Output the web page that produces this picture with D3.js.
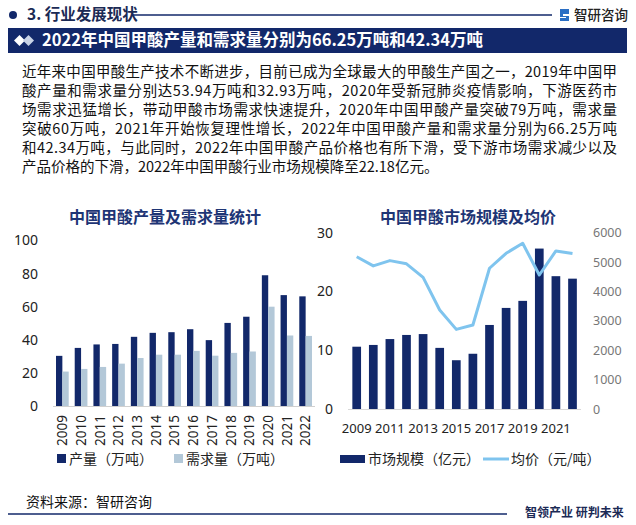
<!DOCTYPE html>
<html><head><meta charset="utf-8">
<script src="https://cdn.jsdelivr.net/npm/d3@7/dist/d3.min.js"></script>
<style>
html,body{margin:0;padding:0;background:#fff;}
svg{display:block;font-family:"Noto Sans CJK SC","Noto Sans",sans-serif;}
</style></head><body>
<svg id="c" width="636" height="525"></svg>
<script>
const years = ["2009","2010","2011","2012","2013","2014","2015","2016","2017","2018","2019","2020","2021","2022"];
const production = [30.3,35.1,37.2,37.5,41.8,44.2,44.6,46.4,39.8,50.2,53.94,79.0,67.0,66.25];
const demand = [20.8,22.4,23.6,25.6,29.0,31.0,31.0,33.3,30.4,32.1,32.93,60.0,42.6,42.34];
const marketSize = [10.6,10.9,11.9,12.6,12.75,10.4,8.3,9.4,14.3,17.2,18.4,27.3,22.6,22.18];
const avgPrice = [5180,4870,5050,4940,4480,3370,2710,2860,4790,5300,5640,4560,5380,5290];
const leftTicks = [0,20,40,60,80,100];
const rightTicksL = [0,10,20,30];
const rightTicksR = [0,1000,2000,3000,4000,5000,6000];
const rightXLabels = ["2009","2011","2013","2015","2017","2019","2021"];
const paragraph = [
 "近年来中国甲酸生产技术不断进步，目前已成为全球最大的甲酸生产国之一，2019年中国甲",
 "酸产量和需求量分别达53.94万吨和32.93万吨，2020年受新冠肺炎疫情影响，下游医药市",
 "场需求迅猛增长，带动甲酸市场需求快速提升，2020年中国甲酸产量突破79万吨，需求量",
 "突破60万吨，2021年开始恢复理性增长，2022年中国甲酸产量和需求量分别为66.25万吨",
 "和42.34万吨，与此同时，2022年中国甲酸产品价格也有所下滑，受下游市场需求减少以及",
 "产品价格的下滑，2022年中国甲酸行业市场规模降至22.18亿元。"
];

const NAVY = "#12286a", LIGHT = "#b3c8d8", LINE = "#7fc4ee", TITLE = "#1e3575";
const NUMFONT = "'Noto Sans','DejaVu Sans',sans-serif";
const svg = d3.select("#c");

// Header
svg.append("circle").attr("cx",13).attr("cy",15).attr("r",4).attr("fill",NAVY);
svg.append("text").attr("x",27).attr("y",15).attr("dy","0.35em").attr("font-size",15.5).attr("font-weight",600)
  .attr("fill","#1b2a55").text("3. 行业发展现状");
svg.append("line").attr("x1",132).attr("x2",552).attr("y1",15).attr("y2",15).attr("stroke",NAVY).attr("stroke-width",1.3);
const lg = svg.append("g").attr("transform","translate(560,9)");
lg.append("path").attr("d","M0,0 H9 V5 H3 V7 H9 V12 H0 V9 H6 V8 H0 Z").attr("fill","#2b6fc4");
svg.append("text").attr("x",574).attr("y",15).attr("dy","0.35em").attr("font-size",13.5).attr("font-weight",500)
  .attr("fill","#222").text("智研咨询");

// Title bar
svg.append("rect").attr("x",8).attr("y",28).attr("width",619).attr("height",25).attr("fill",NAVY);
svg.append("path").attr("d","M14,40.5 L19.5,35 L25,40.5 L19.5,46 Z").attr("fill","#fff");
svg.append("path").attr("d","M23,40.5 L28.5,35 L34,40.5 L28.5,46 Z").attr("fill","#c9d3e6");
svg.append("text").attr("x",42).attr("y",40.5).attr("dy","0.36em").attr("font-size",16.5).attr("font-weight",700)
  .attr("fill","#fff").text("2022年中国甲酸产量和需求量分别为66.25万吨和42.34万吨");

// Paragraph
paragraph.forEach((t,i)=>{
  const el = svg.append("text").attr("x",22).attr("y",71.5+i*19).attr("dy","0.36em").attr("font-size",14.5)
    .attr("fill","#111").text(t);
  if(i<5) el.attr("textLength",595).attr("lengthAdjust","spacing");
});

// ===== Left chart =====
svg.append("text").attr("x",165).attr("y",217).attr("dy","0.36em").attr("text-anchor","middle")
  .attr("font-size",16).attr("font-weight",700).attr("fill",TITLE).text("中国甲酸产量及需求量统计");
const yL = d3.scaleLinear().domain([0,100]).range([406,240.5]);
const xL = d3.scaleBand().domain(years).range([53,315]);
const xSub = d3.scaleBand().domain(["p","d"]).range([3, xL.bandwidth()-3]);
const gL = svg.append("g");
gL.selectAll("rect.p").data(years).join("rect").attr("class","p")
  .attr("x",d=>xL(d)+xSub("p")).attr("width",xSub.bandwidth())
  .attr("y",(d,i)=>yL(production[i])).attr("height",(d,i)=>yL(0)-yL(production[i])).attr("fill",NAVY);
gL.selectAll("rect.d").data(years).join("rect").attr("class","d")
  .attr("x",d=>xL(d)+xSub("d")).attr("width",xSub.bandwidth())
  .attr("y",(d,i)=>yL(demand[i])).attr("height",(d,i)=>yL(0)-yL(demand[i])).attr("fill",LIGHT);
gL.append("line").attr("x1",53).attr("x2",315).attr("y1",yL(0)+0.5).attr("y2",yL(0)+0.5).attr("stroke","#d0d0d0");
const gAxL = svg.append("g").attr("transform","translate(38,0)")
  .call(d3.axisLeft(yL).tickValues(leftTicks).tickFormat(d3.format("d")).tickSize(0).tickPadding(0));
gAxL.select(".domain").remove();
gAxL.selectAll("text").attr("font-size",14).attr("fill","#222").attr("font-family",NUMFONT);
const gXL = svg.append("g").attr("transform","translate(0,415)").call(d3.axisBottom(xL).tickSize(0));
gXL.select(".domain").remove();
gXL.selectAll("text").attr("transform","rotate(-90)").attr("text-anchor","end").attr("x",0).attr("y",0).attr("dy","0.35em")
  .attr("font-size",13.5).attr("fill","#222").attr("font-family",NUMFONT);
svg.append("rect").attr("x",57).attr("y",454).attr("width",9).attr("height",9).attr("fill",NAVY);
svg.append("text").attr("x",69).attr("y",458.5).attr("dy","0.36em").attr("font-size",14).attr("fill","#222").text("产量（万吨）");
svg.append("rect").attr("x",174).attr("y",454).attr("width",9).attr("height",9).attr("fill",LIGHT);
svg.append("text").attr("x",186).attr("y",458.5).attr("dy","0.36em").attr("font-size",14).attr("fill","#222").text("需求量（万吨）");

// ===== Right chart =====
svg.append("text").attr("x",468).attr("y",217).attr("dy","0.36em").attr("text-anchor","middle")
  .attr("font-size",16).attr("font-weight",700).attr("fill",TITLE).text("中国甲酸市场规模及均价");
const yR = d3.scaleLinear().domain([0,30]).range([409,232.7]);
const yP = d3.scaleLinear().domain([0,6000]).range([409,232.7]);
const xR = d3.scaleBand().domain(years).range([348.4,580.8]).paddingInner(0.476).paddingOuter(0.238);
const gR = svg.append("g");
gR.selectAll("rect").data(years).join("rect")
  .attr("x",d=>xR(d)).attr("width",xR.bandwidth())
  .attr("y",(d,i)=>yR(marketSize[i])).attr("height",(d,i)=>yR(0)-yR(marketSize[i])).attr("fill",NAVY);
gR.append("line").attr("x1",348).attr("x2",581).attr("y1",yR(0)+0.5).attr("y2",yR(0)+0.5).attr("stroke","#d8d8d8");
const line = d3.line().x((d,i)=>xR(years[i])+xR.bandwidth()/2).y(d=>yP(d));
gR.append("path").datum(avgPrice).attr("d",line).attr("fill","none").attr("stroke",LINE).attr("stroke-width",3)
  .attr("stroke-linejoin","round");
const gAxRL = svg.append("g").attr("transform","translate(333,0)")
  .call(d3.axisLeft(yR).tickValues(rightTicksL).tickFormat(d3.format("d")).tickSize(0).tickPadding(0));
gAxRL.select(".domain").remove();
gAxRL.selectAll("text").attr("font-size",14).attr("fill","#222").attr("font-family",NUMFONT);
const gAxRR = svg.append("g").attr("transform","translate(593,0)")
  .call(d3.axisRight(yP).tickValues(rightTicksR).tickFormat(d3.format("d")).tickSize(0).tickPadding(0));
gAxRR.select(".domain").remove();
gAxRR.selectAll("text").attr("font-size",12.5).attr("fill","#777").attr("font-family",NUMFONT);
const gXR = svg.append("g").attr("transform","translate(0,428)")
  .call(d3.axisBottom(xR).tickValues(rightXLabels).tickSize(0).tickPadding(0));
gXR.select(".domain").remove();
gXR.selectAll("text").attr("dy","0.36em").attr("font-size",13).attr("fill","#222").attr("font-family",NUMFONT);
svg.append("rect").attr("x",340).attr("y",455).attr("width",25).attr("height",8).attr("fill",NAVY);
svg.append("text").attr("x",368).attr("y",459).attr("dy","0.36em").attr("font-size",14).attr("fill","#222").text("市场规模（亿元）");
svg.append("line").attr("x1",483).attr("x2",509).attr("y1",459).attr("y2",459).attr("stroke",LINE).attr("stroke-width",3);
svg.append("text").attr("x",511).attr("y",459).attr("dy","0.36em").attr("font-size",14).attr("fill","#222").text("均价（元/吨）");

// Footer
svg.append("text").attr("x",26).attr("y",502).attr("dy","0.36em").attr("font-size",14).attr("fill","#111").text("资料来源：智研咨询");
svg.append("line").attr("x1",8).attr("x2",507).attr("y1",514).attr("y2",514).attr("stroke",NAVY).attr("stroke-width",1.3);
svg.append("text").attr("x",525).attr("y",513).attr("dy","0.36em").attr("font-size",12).attr("font-weight",600).attr("fill","#1b2a55").text("智领产业 研判未来");
</script>
</body></html>
